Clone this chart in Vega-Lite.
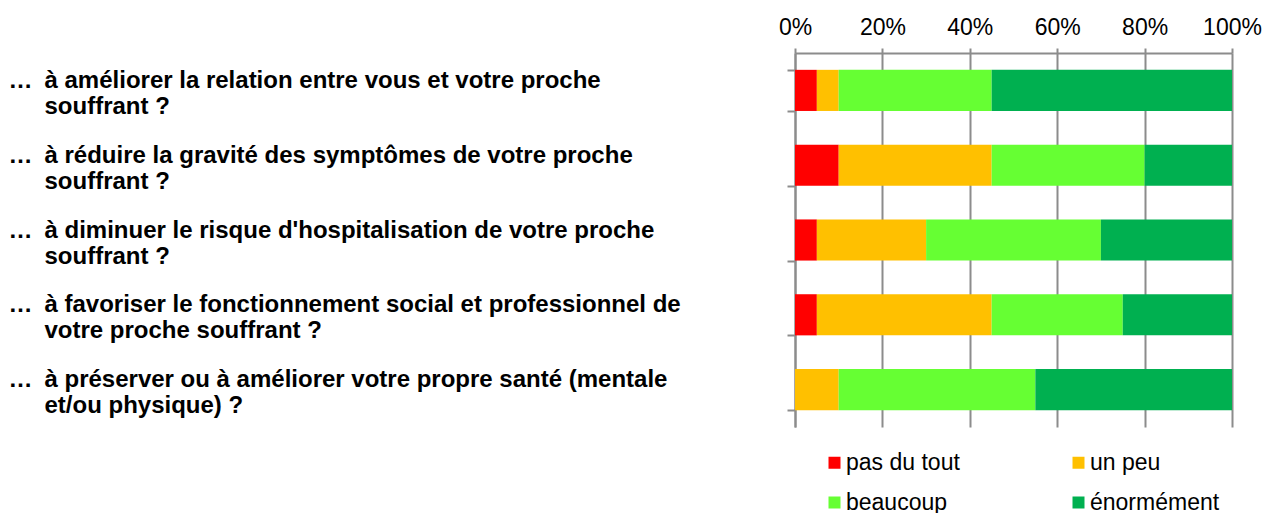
{
  "$schema": "https://vega.github.io/schema/vega-lite/v6.json",
  "width": 437,
  "height": 374,
  "autosize": {"type": "none"},
  "padding": {"left": 795, "top": 53, "right": 33, "bottom": 86},
  "background": "white",
  "config": {"view": {"stroke": null}, "font": "Liberation Sans"},
  "data": {"values": [
    {"q": "à améliorer la relation entre vous et votre proche|souffrant ?", "niveau": "pas du tout", "k": 1, "v": 5},
    {"q": "à améliorer la relation entre vous et votre proche|souffrant ?", "niveau": "un peu", "k": 2, "v": 5},
    {"q": "à améliorer la relation entre vous et votre proche|souffrant ?", "niveau": "beaucoup", "k": 3, "v": 35},
    {"q": "à améliorer la relation entre vous et votre proche|souffrant ?", "niveau": "énormément", "k": 4, "v": 55},
    {"q": "à réduire la gravité des symptômes de votre proche|souffrant ?", "niveau": "pas du tout", "k": 1, "v": 10},
    {"q": "à réduire la gravité des symptômes de votre proche|souffrant ?", "niveau": "un peu", "k": 2, "v": 35},
    {"q": "à réduire la gravité des symptômes de votre proche|souffrant ?", "niveau": "beaucoup", "k": 3, "v": 35},
    {"q": "à réduire la gravité des symptômes de votre proche|souffrant ?", "niveau": "énormément", "k": 4, "v": 20},
    {"q": "à diminuer le risque d'hospitalisation de votre proche|souffrant ?", "niveau": "pas du tout", "k": 1, "v": 5},
    {"q": "à diminuer le risque d'hospitalisation de votre proche|souffrant ?", "niveau": "un peu", "k": 2, "v": 25},
    {"q": "à diminuer le risque d'hospitalisation de votre proche|souffrant ?", "niveau": "beaucoup", "k": 3, "v": 40},
    {"q": "à diminuer le risque d'hospitalisation de votre proche|souffrant ?", "niveau": "énormément", "k": 4, "v": 30},
    {"q": "à favoriser le fonctionnement social et professionnel de|votre proche souffrant ?", "niveau": "pas du tout", "k": 1, "v": 5},
    {"q": "à favoriser le fonctionnement social et professionnel de|votre proche souffrant ?", "niveau": "un peu", "k": 2, "v": 40},
    {"q": "à favoriser le fonctionnement social et professionnel de|votre proche souffrant ?", "niveau": "beaucoup", "k": 3, "v": 30},
    {"q": "à favoriser le fonctionnement social et professionnel de|votre proche souffrant ?", "niveau": "énormément", "k": 4, "v": 25},
    {"q": "à préserver ou à améliorer votre propre santé (mentale|et/ou physique) ?", "niveau": "pas du tout", "k": 1, "v": 0},
    {"q": "à préserver ou à améliorer votre propre santé (mentale|et/ou physique) ?", "niveau": "un peu", "k": 2, "v": 10},
    {"q": "à préserver ou à améliorer votre propre santé (mentale|et/ou physique) ?", "niveau": "beaucoup", "k": 3, "v": 45},
    {"q": "à préserver ou à améliorer votre propre santé (mentale|et/ou physique) ?", "niveau": "énormément", "k": 4, "v": 45}
  ]},
  "mark": {"type": "bar"},
  "encoding": {
    "y": {
      "field": "q", "type": "nominal", "sort": null,
      "scale": {"paddingInner": 0.45, "paddingOuter": 0.225},
      "axis": {
        "title": null,
        "orient": "left",
        "domainColor": "#8c8c8c", "domainWidth": 2,
        "tickColor": "#8c8c8c", "tickWidth": 2, "tickSize": 8, "tickBand": "extent",
        "labelAlign": "left", "labelBaseline": "middle",
        "labelPadding": 779, "labelLimit": 0,
        "labelFont": "Liberation Sans", "labelFontWeight": "bold", "labelFontSize": 24,
        "labelColor": "#000000", "labelLineHeight": 26, "labelOffset": -10,
        "labelExpr": "isString(datum.value) ? ['…\u2002' + split(datum.value, '|')[0], '\u200B\u2002\u2002\u2002' + split(datum.value, '|')[1]] : ''"
      }
    },
    "x": {
      "field": "v", "type": "quantitative", "stack": "normalize",
      "scale": {"domain": [0, 1], "nice": false},
      "axis": {
        "title": null, "orient": "top", "format": ".0%",
        "values": [0, 0.2, 0.4, 0.6, 0.8, 1],
        "grid": true, "gridColor": "#8c8c8c", "gridWidth": 2,
        "domainColor": "#8c8c8c", "domainWidth": 2,
        "tickColor": "#8c8c8c", "tickWidth": 2, "tickSize": 5,
        "labelFont": "Liberation Sans", "labelFontSize": 23, "labelColor": "#000000",
        "labelPadding": 9, "labelFlush": false, "labelOverlap": false
      }
    },
    "order": {"field": "k", "type": "quantitative"},
    "color": {
      "field": "niveau", "type": "nominal",
      "scale": {
        "domain": ["pas du tout", "un peu", "beaucoup", "énormément"],
        "range": ["#FF0000", "#FFC000", "#66FF33", "#00B050"]
      },
      "legend": {
        "title": null, "orient": "none", "legendX": 28, "legendY": 398,
        "direction": "horizontal", "columns": 2, "columnPadding": 107, "rowPadding": 16,
        "symbolType": "square", "symbolSize": 144, "symbolStrokeWidth": 0, "symbolOpacity": 1,
        "labelFont": "Liberation Sans", "labelFontSize": 23, "labelColor": "#000000",
        "labelOffset": 0, "labelLimit": 0
      }
    }
  }
}
